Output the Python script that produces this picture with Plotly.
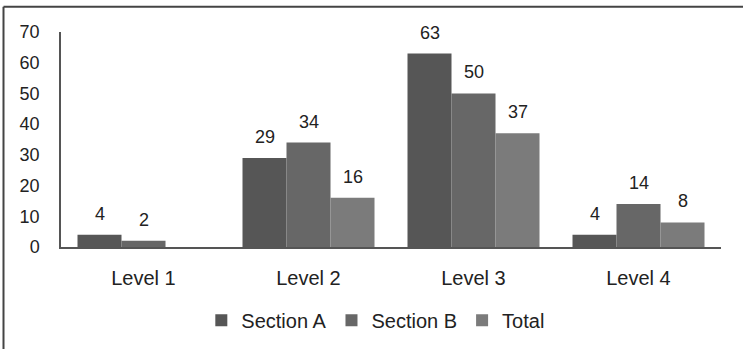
import plotly.graph_objects as go

categories = ["Level 1", "Level 2", "Level 3", "Level 4"]
section_a = [4, 29, 63, 4]
section_b = [2, 34, 50, 14]
total = [0, 16, 37, 8]
y_ticks = [0, 10, 20, 30, 40, 50, 60, 70]

series = [
    ("Section A", section_a, "#565656"),
    ("Section B", section_b, "#676767"),
    ("Total", total, "#7b7b7b"),
]

W, H = 743, 352
ML, MR, MT, MB = 61, 22, 32, 103
PW, PH = W - ML - MR, H - MT - MB

xs = list(range(len(categories)))
fig = go.Figure()
BARGAP = 0.2
bw = (1 - BARGAP) / len(series)
annotations = []
for j, (name, vals, col) in enumerate(series):
    fig.add_trace(go.Bar(
        x=xs, y=vals, name=name,
        marker=dict(color=col, line=dict(width=0)),
    ))
    for i, v in enumerate(vals):
        if v:
            annotations.append(dict(
                x=i + (j - (len(series) - 1) / 2) * bw, y=v,
                xref="x", yref="y", text=str(v), showarrow=False,
                yanchor="middle", yshift=21,
                font=dict(family="Liberation Sans, Arial", size=18, color="#222222"),
            ))

def px_x(p):
    return (p - ML) / PW

def px_y(p):
    return (H - MB - p) / PH

shapes = [
    dict(type="line", xref="paper", yref="paper",
         x0=px_x(3.5), x1=px_x(3.5), y0=px_y(6.5), y1=px_y(H),
         line=dict(color="#444444", width=2)),
    dict(type="line", xref="paper", yref="paper",
         x0=px_x(3.5), x1=px_x(W), y0=px_y(6.5), y1=px_y(6.5),
         line=dict(color="#444444", width=2)),
]

fig.update_layout(
    width=W, height=H,
    margin=dict(l=ML, r=MR, t=MT, b=MB, pad=0),
    paper_bgcolor="white", plot_bgcolor="white",
    barmode="group", bargap=BARGAP, bargroupgap=0,
    font=dict(family="Liberation Sans, Arial", size=18, color="#222222"),
    showlegend=True,
    legend=dict(orientation="h", x=0.477, xanchor="center", y=px_y(323), yanchor="middle",
                font=dict(size=20, color="#222222"), itemwidth=30, traceorder="normal"),
    annotations=annotations,
    shapes=shapes,
    xaxis=dict(
        range=[-0.5, len(categories) - 0.5],
        tickvals=xs, ticktext=categories,
        showline=True, linecolor="#555555", linewidth=1.5,
        ticks="", showgrid=False, zeroline=False,
        tickfont=dict(size=20), ticklabelstandoff=12,
    ),
    yaxis=dict(
        range=[0, 70], tickvals=y_ticks,
        showline=True, linecolor="#555555", linewidth=1.5,
        ticks="", showgrid=False, zeroline=False,
        tickfont=dict(size=18), ticklabelstandoff=16,
    ),
)

fig.write_html("out.html")
